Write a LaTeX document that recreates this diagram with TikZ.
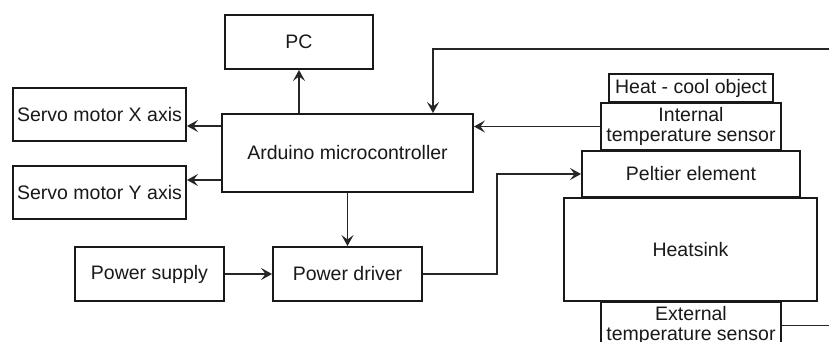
\documentclass[tikz,border=0pt]{standalone}
\usepackage{fontspec}
\setmainfont{Liberation Sans}
\usetikzlibrary{arrows.meta,calc}
\begin{document}
\begin{tikzpicture}[x=1pt,y=-1pt,
  box/.style={draw=black!90,line width=1.9pt,inner sep=0pt,align=center,
    font=\fontsize{19.5}{20.5}\selectfont,text=black!90},
  conn/.style={draw=black!85,line width=1.6pt},
  arr/.style={conn,-{Stealth[length=11pt,width=12pt,inset=4.5pt]}}]
\useasboundingbox[fill=white] (0,0) rectangle (829,342);
\clip (0,0) rectangle (829,342);
\node[box,minimum width=148pt,minimum height=54pt] (pc) at (299,42) {PC};
\node[box,minimum width=173pt,minimum height=53pt] (sx) at (99.5,114.5) {Servo motor X axis};
\node[box,minimum width=173pt,minimum height=53pt] (sy) at (99.5,192.5) {Servo motor Y axis};
\node[box,minimum width=251pt,minimum height=78pt] (ard) at (347.5,153) {Arduino microcontroller};
\node[box,minimum width=149pt,minimum height=54pt] (ps) at (149.5,274) {Power supply};
\node[box,minimum width=149pt,minimum height=54pt] (pd) at (347.5,274) {Power driver};
\node[box,minimum width=164pt,minimum height=28pt] (hc) at (691,88) {Heat - cool object};
\node[box,minimum width=180pt,minimum height=47pt] (its) at (691,126.5) {Internal\\temperature sensor};
\node[box,minimum width=218pt,minimum height=46pt] (pel) at (691,174) {Peltier element};
\node[box,minimum width=253pt,minimum height=103pt] (hs) at (690.5,249.5) {Heatsink};
\node[box,minimum width=180pt,minimum height=47pt] (ets) at (691,325.5) {External\\temperature sensor};
\coordinate (topin) at (829,49);
\coordinate (extout) at (829,326);
\draw[arr] (ard.north -| pc.south) -- (pc.south);
\draw[arr] ([yshift=27pt]ard.west) -- ([yshift=27pt]ard.west -| sx.east);
\draw[arr] ([yshift=-27pt]ard.west) -- ([yshift=-27pt]ard.west -| sy.east);
\draw[arr] (ard.south) -- (pd.north);
\draw[arr] (ps.east) -- (pd.west);
\draw[arr] (pd.east) -- ++(74,0) |- (pel.west);
\draw[arr] (its.west) -- (its.west -| ard.east);
\draw[arr] (topin) -| ([xshift=85.5pt]ard.north);
\draw[conn] (ets.east) -- (ets.east -| extout);
\end{tikzpicture}
\end{document}
